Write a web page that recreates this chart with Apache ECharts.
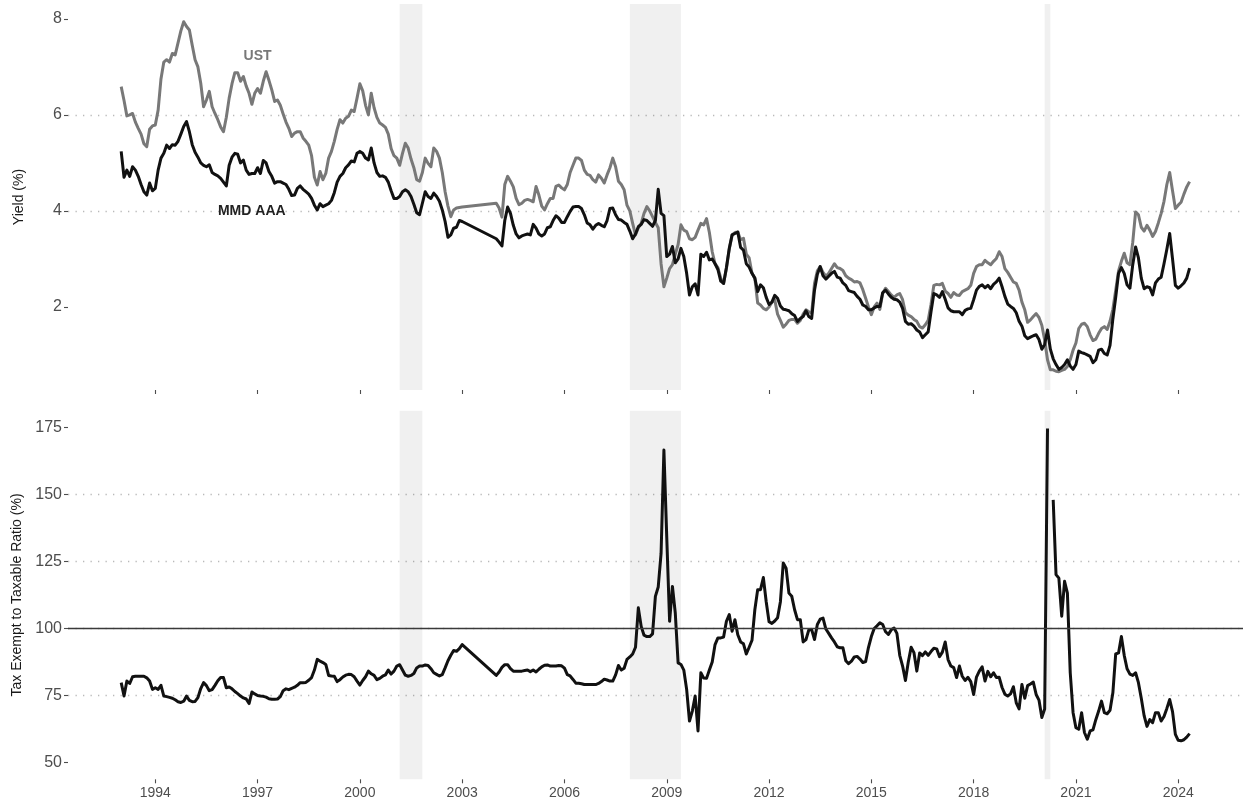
<!DOCTYPE html>
<html>
<head>
<meta charset="utf-8">
<script src="https://cdn.jsdelivr.net/npm/echarts@6/dist/echarts.min.js"></script>
<style>
html,body{margin:0;padding:0;background:#fff;}
#c{width:1243px;height:802px;}
</style>
</head>
<body>
<div id="c"></div>
<script>
// Monthly observations starting January 1993 (one row per year).
// null = month not observed (line connects across), NA = missing value (line breaks)
const START_YEAR = 1993;
const NA = '-';
const N11 = [null, null, null, null, null, null, null, null, null, null, null];

const ust = [
  6.59, 6.30, 5.98, 6.00, 6.03, 5.85, 5.72, 5.60, 5.40, 5.34, 5.70, 5.77,
  5.79, 6.10, 6.75, 7.10, 7.15, 7.10, 7.28, 7.25, 7.50, 7.75, 7.94, 7.84,
  7.77, 7.45, 7.15, 7.00, 6.66, 6.17, 6.31, 6.49, 6.17, 6.03, 5.90, 5.75,
  5.65, 5.95, 6.35, 6.65, 6.88, 6.88, 6.70, 6.80, 6.60, 6.45, 6.22, 6.45,
  6.55, 6.45, 6.70, 6.90, 6.72, 6.52, 6.28, 6.31, 6.20, 6.02, 5.85, 5.72,
  5.55, 5.62, 5.65, 5.65, 5.52, 5.45, 5.37, 5.15, 4.70, 4.54, 4.82, 4.65,
  4.78, 5.10, 5.24, 5.45, 5.70, 5.90, 5.83, 5.93, 5.97, 6.10, 6.07, 6.35,
  6.65, 6.50, 6.20, 6.00, 6.45, 6.15, 5.95, 5.83, 5.79, 5.74, 5.60, 5.30,
  5.15, 5.10, 4.95, 5.20, 5.41, 5.31, 5.08, 4.90, 4.65, 4.62, 4.80, 5.10,
  4.99, 4.92, 5.31, 5.24, 5.10, 4.80, 4.40, 4.10, 3.88, 4.02, 4.06, 4.07,
  4.08, ...N11,
  4.16, 4.06, 3.87, 4.55, 4.72, 4.62, 4.50, 4.26, 4.13, 4.16, 4.22, 4.24,
  4.22, 4.19, 4.51, 4.33, 4.10, 4.02, 4.15, 4.26, 4.26, 4.51, 4.54, 4.48,
  4.44, 4.55, 4.80, 4.95, 5.10, 5.10, 5.05, 4.85, 4.76, 4.74, 4.65, 4.60,
  4.75, 4.68, 4.58, 4.75, 4.90, 5.10, 4.92, 4.62, 4.55, 4.44, 4.12, 4.00,
  3.74, 3.50, 3.65, 3.74, 3.95, 4.09, 4.00, 3.88, 3.76, 3.65, 2.90, 2.42,
  2.60, 2.80, 2.88, 3.10, 3.30, 3.71, 3.60, 3.57, 3.42, 3.40, 3.45, 3.60,
  3.74, 3.71, 3.84, 3.55, 3.15, 2.90, 2.82, 2.60, 2.49, 2.80, 3.20, 3.50,
  3.55, 3.56, 3.40, 3.43, 3.10, 3.02, 2.70, 2.60, 2.08, 2.04, 1.97, 1.94,
  2.00, 2.10, 2.15, 1.85, 1.72, 1.58, 1.64, 1.72, 1.74, 1.74, 1.66, 1.72,
  1.85, 1.94, 1.90, 1.87, 2.49, 2.75, 2.84, 2.72, 2.64, 2.70, 2.80, 2.90,
  2.82, 2.80, 2.76, 2.65, 2.60, 2.57, 2.52, 2.53, 2.50, 2.36, 2.18, 2.00,
  1.84, 2.00, 2.08, 1.95, 2.28, 2.39, 2.32, 2.25, 2.20, 2.25, 2.28, 2.15,
  1.88, 1.83, 1.80, 1.74, 1.70, 1.59, 1.56, 1.63, 1.72, 2.05, 2.45, 2.47,
  2.46, 2.49, 2.33, 2.28, 2.20, 2.30, 2.25, 2.24, 2.32, 2.35, 2.38, 2.45,
  2.70, 2.84, 2.88, 2.88, 2.97, 2.92, 2.88, 2.95, 3.01, 3.15, 3.05, 2.80,
  2.72, 2.62, 2.52, 2.49, 2.35, 2.10, 1.94, 1.68, 1.73, 1.80, 1.86, 1.78,
  1.62, 1.31, 0.90, 0.69, 0.69, 0.66, 0.65, 0.68, 0.70, 0.76, 0.90, 1.10,
  1.25, 1.55, 1.64, 1.66, 1.59, 1.42, 1.30, 1.33, 1.45, 1.55, 1.59, 1.53,
  1.70, 1.95, 2.35, 2.75, 2.95, 3.12, 2.92, 2.88, 3.35, 3.98, 3.92, 3.66,
  3.58, 3.70, 3.60, 3.47, 3.57, 3.75, 3.95, 4.20, 4.55, 4.80, 4.42, 4.05,
  4.12, 4.18, 4.35, 4.50, 4.61
];

const mmd = [
  5.24, 4.70, 4.85, 4.72, 4.92, 4.85, 4.72, 4.55, 4.40, 4.33, 4.58, 4.42,
  4.47, 4.85, 5.10, 5.20, 5.37, 5.30, 5.38, 5.37, 5.45, 5.60, 5.76, 5.86,
  5.65, 5.38, 5.22, 5.12, 5.00, 4.95, 4.92, 4.96, 4.80, 4.76, 4.73, 4.68,
  4.60, 4.52, 4.95, 5.12, 5.20, 5.18, 5.00, 5.06, 4.85, 4.76, 4.78, 4.78,
  4.90, 4.78, 5.05, 5.00, 4.82, 4.72, 4.58, 4.61, 4.61, 4.58, 4.55, 4.45,
  4.32, 4.33, 4.47, 4.52, 4.45, 4.40, 4.35, 4.26, 4.12, 4.02, 4.15, 4.09,
  4.12, 4.15, 4.22, 4.38, 4.60, 4.72, 4.78, 4.90, 4.96, 5.04, 5.02, 5.20,
  5.24, 5.20, 5.10, 5.06, 5.31, 5.00, 4.80, 4.72, 4.73, 4.70, 4.60, 4.42,
  4.26, 4.26, 4.30, 4.40, 4.44, 4.40, 4.30, 4.14, 3.96, 3.92, 4.16, 4.40,
  4.30, 4.26, 4.37, 4.30, 4.20, 4.02, 3.78, 3.45, 3.50, 3.64, 3.66, 3.80,
  3.78, ...N11,
  3.42, 3.35, 3.27, 3.80, 4.08, 3.95, 3.70, 3.52, 3.44, 3.48, 3.50, 3.52,
  3.50, 3.72, 3.64, 3.52, 3.48, 3.52, 3.65, 3.67, 3.80, 3.90, 3.85, 3.76,
  3.76, 3.88, 3.99, 4.08, 4.09, 4.09, 4.05, 3.92, 3.75, 3.71, 3.62, 3.70,
  3.74, 3.70, 3.67, 3.80, 4.05, 4.06, 3.92, 3.82, 3.81, 3.76, 3.72, 3.58,
  3.42, 3.52, 3.67, 3.72, 3.82, 3.80, 3.74, 3.68, 3.80, 4.45, 3.95, 3.90,
  3.05, 3.10, 3.26, 2.92, 3.00, 3.22, 3.05, 2.70, 2.25, 2.42, 2.48, 2.25,
  3.10, 3.05, 3.14, 2.98, 3.00, 2.90, 2.78, 2.54, 2.49, 2.82, 3.22, 3.50,
  3.53, 3.56, 3.24, 3.18, 2.90, 2.83, 2.70, 2.60, 2.32, 2.46, 2.40, 2.20,
  2.05, 2.10, 2.24, 2.18, 2.02, 1.95, 1.94, 1.92, 1.86, 1.82, 1.70, 1.76,
  1.80, 1.92, 1.80, 1.76, 2.35, 2.68, 2.84, 2.65, 2.58, 2.64, 2.70, 2.74,
  2.62, 2.60, 2.50, 2.45, 2.34, 2.32, 2.30, 2.22, 2.16, 2.04, 2.01, 1.94,
  1.94, 1.98, 2.01, 2.01, 2.30, 2.35, 2.27, 2.20, 2.16, 2.15, 2.10, 1.97,
  1.70, 1.64, 1.65, 1.60, 1.52, 1.48, 1.36, 1.42, 1.48, 1.90, 2.28, 2.25,
  2.20, 2.32, 2.16, 1.98, 1.92, 1.90, 1.90, 1.90, 1.84, 1.93, 1.96, 1.97,
  2.15, 2.35, 2.43, 2.46, 2.40, 2.45, 2.38, 2.47, 2.52, 2.60, 2.42, 2.22,
  2.06, 2.01, 1.97, 1.88, 1.70, 1.60, 1.40, 1.34, 1.37, 1.40, 1.42, 1.32,
  1.12, 1.22, 1.52, 1.12, 0.92, 0.80, 0.70, 0.74, 0.80, 0.90, 0.77, 0.70,
  0.80, 1.08, 1.05, 1.03, 1.00, 0.97, 0.84, 0.90, 1.10, 1.12, 1.03, 1.00,
  1.20, 1.75, 2.20, 2.70, 2.82, 2.70, 2.46, 2.39, 2.88, 3.25, 3.02, 2.60,
  2.38, 2.42, 2.40, 2.25, 2.50, 2.58, 2.62, 2.90, 3.20, 3.53, 3.00, 2.45,
  2.39, 2.44, 2.50, 2.60, 2.81
];

const ratio = [
  79.8, 74.8, 80.4, 79.5, 82.0, 82.2, 82.2, 82.2, 82.2, 81.6, 80.4, 77.3,
  77.9, 77.3, 78.8, 74.8, 74.6, 74.3, 74.0, 73.4, 72.7, 72.4, 72.9, 74.8,
  73.2, 72.7, 72.8, 74.2, 77.6, 79.8, 78.7, 76.8, 77.2, 78.8, 80.5, 81.7,
  81.7, 77.9, 78.2, 77.5, 76.5, 75.7, 74.8, 74.1, 73.7, 72.0, 76.3, 75.6,
  75.0, 74.8, 74.7, 74.4, 73.8, 73.6, 73.6, 73.7, 74.6, 76.8, 77.5, 77.2,
  77.7, 78.1, 78.8, 79.8, 79.8, 79.9, 80.7, 81.7, 84.5, 88.5, 87.8, 87.3,
  86.6, 82.5, 82.3, 82.2, 80.2, 80.9, 81.9, 82.6, 82.9, 82.8, 82.0, 80.4,
  78.9, 80.6, 82.0, 84.1, 83.1, 82.5, 80.9, 81.4, 82.2, 82.7, 84.5, 83.0,
  84.1, 86.0, 86.5, 84.5, 82.6, 82.2, 82.5, 83.2, 85.3, 86.0, 86.0, 86.4,
  86.2, 85.0, 83.5, 82.9, 82.3, 82.8, 85.3, 88.0, 90.0, 91.8, 91.5, 92.5,
  94.0, ...N11,
  82.5, 83.8, 85.5, 86.5, 86.5, 85.0, 84.1, 84.1, 84.1, 84.1, 84.3, 84.5,
  83.9, 84.5, 83.8, 84.8, 85.7, 86.3, 86.4, 86.0, 86.0, 86.0, 86.2, 86.1,
  85.2, 82.8, 82.3, 81.0, 79.6, 79.6, 79.4, 79.1, 79.1, 79.1, 79.1, 79.1,
  79.5, 80.2, 81.1, 80.8, 80.4, 80.4, 82.7, 86.2, 84.5, 85.2, 88.5, 89.4,
  90.5, 93.0, 107.7, 100.8, 97.5, 97.0, 97.0, 98.0, 112.0, 115.5, 128.0, 166.6,
  134.0, 102.7, 115.7, 105.8, 87.2, 86.6, 84.5, 77.3, 65.5, 69.2, 74.8, 61.8,
  83.5, 81.5, 81.4, 84.5, 87.5, 94.0, 96.5, 96.5, 96.8, 102.7, 105.2, 99.0,
  103.3, 97.7, 95.0, 94.3, 90.5, 93.0, 95.6, 107.0, 114.5, 114.5, 119.0, 110.0,
  102.5, 101.9, 102.8, 104.0, 110.0, 124.4, 122.5, 113.2, 112.0, 107.0, 103.3, 103.3,
  95.0, 95.9, 99.5, 99.6, 95.9, 101.5, 103.5, 103.9, 99.8, 98.2, 96.5, 95.0,
  93.2, 92.8, 92.8, 88.0, 86.9, 87.8, 89.4, 89.6, 88.6, 87.3, 87.7, 93.0,
  97.0, 100.0, 101.0, 102.1, 101.5, 98.8, 97.8, 99.5, 100.2, 98.2, 90.0, 86.0,
  80.6, 87.5, 93.0, 91.0, 84.1, 90.9, 89.9, 91.3, 90.0, 91.4, 92.6, 92.4,
  89.5, 91.2, 95.0, 88.4, 86.0, 85.4, 81.7, 86.0, 82.2, 80.6, 81.8, 80.2,
  75.4, 81.9, 84.1, 85.7, 80.4, 84.0, 82.0, 83.5, 81.7, 81.8, 78.0, 75.5,
  74.8, 75.6, 78.3, 72.3, 70.0, 79.1, 74.0, 78.7, 79.3, 80.0, 75.4, 73.3,
  66.8, 70.0, 174.6, NA, 148.0, 120.1, 118.8, 104.6, 117.6, 113.2, 83.5, 68.6,
  63.0, 62.4, 68.6, 61.2, 58.7, 61.8, 62.2, 66.0, 69.2, 72.9, 68.6, 68.2,
  69.5, 76.0, 90.5, 90.9, 97.0, 90.0, 85.0, 83.0, 82.5, 83.5, 79.8, 74.0,
  67.5, 63.5, 66.0, 64.9, 68.6, 68.6, 65.5, 67.2, 70.2, 73.5, 69.0, 60.5,
  58.3, 58.1, 58.5, 59.5, 60.8
];

// NBER recessions (decimal years): 2001-03..2001-11, 2007-12..2009-06, 2020-02..2020-04
const recessions = [[2001.167, 2001.833], [2007.917, 2009.417], [2020.083, 2020.25]];
const yearTicks = [1994, 1997, 2000, 2003, 2006, 2009, 2012, 2015, 2018, 2021, 2024];
const yieldTicks = [2, 4, 6, 8];
const ratioTicks = [50, 75, 100, 125, 150, 175];

const FONT = "'Liberation Sans', Arial, Helvetica, sans-serif";
const monthX = i => START_YEAR + i / 12;
const toPairs = arr => arr.map((v, i) => (v === null ? null : [monthX(i), v])).filter(Boolean);

const X_MIN = 1991.44, X_MAX = 2025.9;
const tickLine = { color: '#4d4d4d', width: 1.1 };
const gridDots = { show: true, showMinLine: false, showMaxLine: false,
  lineStyle: { color: '#b9b9b9', width: 1.3, type: [1.3, 6.2] } };

const shade = {
  silent: true,
  itemStyle: { color: 'rgba(0,0,0,0.058)' },
  label: { show: false },
  data: recessions.map(r => [{ xAxis: r[0] }, { xAxis: r[1] }])
};

function yAxisDef(idx, min, max, ticks, name) {
  return {
    type: 'value', gridIndex: idx, min: min, max: max,
    name: name, nameLocation: 'middle', nameGap: 42,
    nameTextStyle: { color: '#1a1a1a', fontSize: 14, fontFamily: FONT },
    axisLine: { show: false },
    axisTick: { show: true, length: 4, customValues: ticks, lineStyle: tickLine },
    axisLabel: { show: true, customValues: ticks, color: '#4d4d4d', fontSize: 16, margin: 6, fontFamily: FONT },
    splitLine: gridDots
  };
}

function xAxisDef(idx, showLabels) {
  return {
    type: 'value', gridIndex: idx, min: X_MIN, max: X_MAX,
    axisLine: { show: false },
    axisTick: { show: true, length: 4, customValues: yearTicks, lineStyle: tickLine },
    axisLabel: { show: showLabels, customValues: yearTicks, formatter: v => String(Math.round(v)),
      color: '#4d4d4d', fontSize: 14, margin: 7, fontFamily: FONT },
    splitLine: { show: false }
  };
}

const chart = echarts.init(document.getElementById('c'));
chart.setOption({
  animation: false,
  backgroundColor: '#ffffff',
  grid: [
    { left: 68, right: 0, top: 4, height: 386 },
    { left: 68, right: 0, top: 410.7, height: 368.6 }
  ],
  xAxis: [xAxisDef(0, false), xAxisDef(1, true)],
  yAxis: [
    yAxisDef(0, 0.27, 8.31, yieldTicks, 'Yield (%)'),
    yAxisDef(1, 43.75, 181.25, ratioTicks, 'Tax Exempt to Taxable Ratio (%)')
  ],
  series: [
    {
      name: 'UST', type: 'line', xAxisIndex: 0, yAxisIndex: 0,
      data: toPairs(ust), symbol: 'none', z: 2,
      lineStyle: { color: '#787878', width: 3, join: 'round' },
      markArea: shade,
      markPoint: {
        symbol: 'circle', symbolSize: 1, itemStyle: { color: 'rgba(0,0,0,0)' },
        label: { show: true, position: 'inside', formatter: 'UST', color: '#787878',
          fontWeight: 'bold', fontSize: 14, fontFamily: FONT },
        data: [{ coord: [1997.0, 7.23] }]
      }
    },
    {
      name: 'MMD AAA', type: 'line', xAxisIndex: 0, yAxisIndex: 0,
      data: toPairs(mmd), symbol: 'none', z: 3,
      lineStyle: { color: '#111111', width: 3, join: 'round' },
      markPoint: {
        symbol: 'circle', symbolSize: 1, itemStyle: { color: 'rgba(0,0,0,0)' },
        label: { show: true, position: 'inside', formatter: 'MMD AAA', color: '#222222',
          fontWeight: 'bold', fontSize: 14, fontFamily: FONT },
        data: [{ coord: [1996.83, 3.99] }]
      }
    },
    {
      name: 'Ratio', type: 'line', xAxisIndex: 1, yAxisIndex: 1,
      data: toPairs(ratio), symbol: 'none', z: 3, connectNulls: false,
      lineStyle: { color: '#111111', width: 3, join: 'round' },
      markArea: shade,
      markLine: {
        silent: true, symbol: 'none', label: { show: false },
        lineStyle: { color: '#3a3a3a', width: 1.4, type: 'solid' },
        data: [{ yAxis: 100 }]
      }
    }
  ]
});
</script>
</body>
</html>
